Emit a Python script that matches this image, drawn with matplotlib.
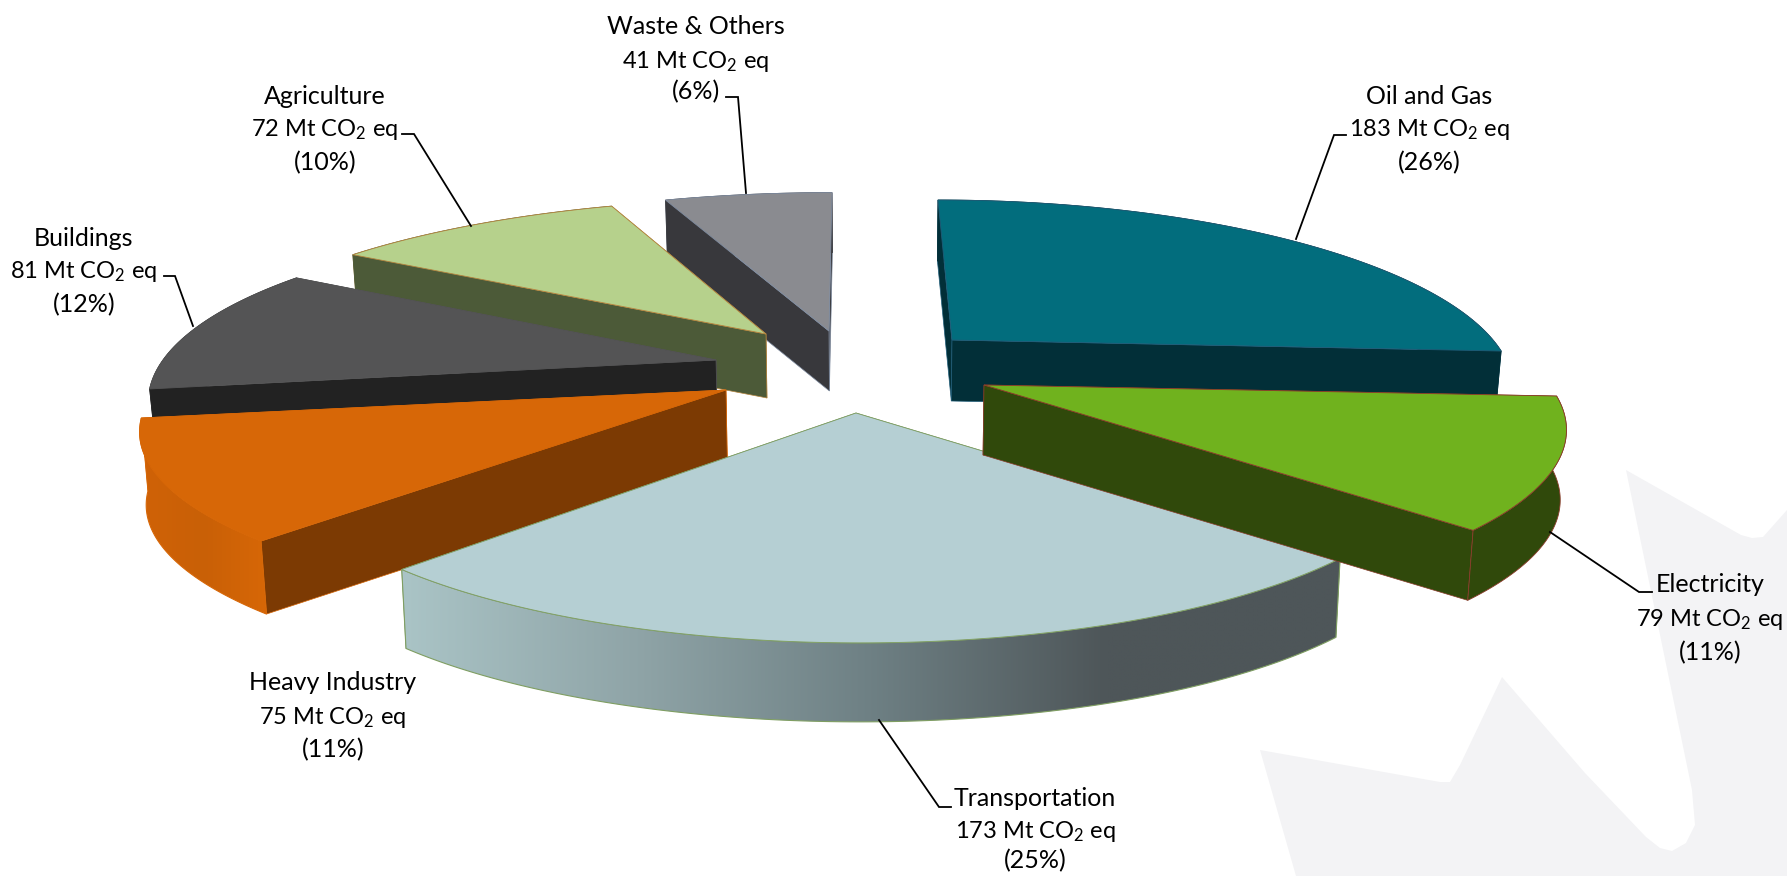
import numpy as np
import matplotlib
matplotlib.use("Agg")
import matplotlib.pyplot as plt
from matplotlib.colors import to_rgb
from matplotlib.patches import Polygon

plt.rcParams["font.family"] = ["Lato", "DejaVu Sans"]
plt.rcParams["mathtext.default"] = "regular"

# -- Data ---------------------------------------------------------------------
sectors = ["Oil and Gas", "Electricity", "Transportation", "Heavy Industry",
           "Buildings", "Agriculture", "Waste & Others"]
values = [183, 79, 173, 75, 81, 72, 41]
percents = [26, 11, 25, 11, 12, 10, 6]

# -- Style: one entry per sector, same order ----------------------------------
top_colors = ["#026D7D", "#70B21E", "#B5CFD3", "#D76707", "#545455", "#B6D18C", "#8A8B90"]
side_colors = ["#022F38", "#30490B", "#6F8488", "#7C3A03", "#222222", "#4C5A38", "#38383C"]
edge_colors = ["#1F5C78", "#8A3B2A", "#7F9E62", "#D76707", "#545455", "#B5853F", "#7F8CA0"]
wall_stops = [None, None, ["#AAC4C6", "#8FA4A7", "#6E8084", "#4E5659", "#4E5659"],
              ["#D06207", "#C96006", "#D76707"], None, None, None]
apex_x = [952, 984, 856, 726, 716, 766, 829]
apex_y = [340, 385, 413, 390, 360, 334, 331]
radius = [541, 565, 556, 570, 553, 558, 570]
tilt = [174, 174, 174, 168, 174, 168, 172]
lean = [-14, 0, -4, -5, -10, 9, 3]   # sideways shift of the rim towards the back
depth = [61, 70, 79, 73, 62, 64, 60]
draw_order = [6, 5, 4, 0, 3, 2, 1]

label_x = [1429, 1710, 1035, 333, 84, 325, 696]
label_y = [[96, 130, 163], [585, 620, 653], [799, 831, 861], [682, 718, 750],
           [238, 271, 305], [96, 130, 163], [26, 62, 92]]
leaders = [[(1346, 135), (1334, 135), (1296, 239)],
           [(1652, 592), (1639, 592), (1550, 532)],
           [(951, 807), (939, 807), (879, 720)],
           None,
           [(164, 276), (175, 276), (193, 326)],
           [(402, 134), (414, 134), (471, 226)],
           [(726, 97), (738, 97), (746, 193)]]

# Faint maple leaf in the bottom right corner
leaf_x = [1260, 1440, 1450, 1460, 1502, 1585, 1646, 1660, 1672, 1686, 1695, 1692,
          1626, 1741, 1752, 1763, 1787, 1787, 1296]
leaf_y = [750, 782, 782, 765, 677, 773, 837, 848, 851, 843, 825, 790,
          470, 535, 538, 537, 510, 876, 876]

START_ANGLE = 0.0    # degrees clockwise from the back of the pie
PERSP = 0.243        # how much smaller the back of the pie is
CENTER_X = 875.0     # vertical edges lean towards this x
CONVERGE = 0.009     # how much the bottom rim is pulled in

sweeps = np.array(values) / sum(values) * 360.0
starts = START_ANGLE + np.concatenate([[0], np.cumsum(sweeps)[:-1]])


def project(i, theta):
    """Screen position of the rim of slice i at angle(s) theta, in degrees."""
    t = np.radians(theta)
    den = 1 + PERSP * np.cos(t)
    x = apex_x[i] + radius[i] * np.sin(t) / den + lean[i] * np.cos(t)
    y = apex_y[i] - tilt[i] * np.cos(t) / den
    return x, y


def lower(x):
    """x of the bottom edge under a point of the top surface."""
    return x - (x - CENTER_X) * CONVERGE


fig = plt.figure(figsize=(17.87, 8.76), dpi=100)
ax = fig.add_axes([0, 0, 1, 1])
ax.axis("off")

ax.add_patch(Polygon(np.column_stack([leaf_x, leaf_y]), closed=True,
                     fc="#F3F3F5", ec="none", zorder=0))

# -- Slices, painted from the back to the front --------------------------------
z = 1
for i in draw_order:
    t0, t1 = starts[i], starts[i] + sweeps[i]
    thetas = np.linspace(t0, t1, 120)
    rx, ry = project(i, thetas)
    ax_, ay_ = apex_x[i], apex_y[i]
    d = depth[i]
    bx = lower(rx)

    # the two cut faces, the rear one first
    for end in sorted([0, -1], key=lambda e: ry[e]):
        face = [(ax_, ay_), (rx[end], ry[end]), (bx[end], ry[end] + d), (lower(ax_), ay_ + d)]
        ax.add_patch(Polygon(face, closed=True, fc=side_colors[i],
                             ec=edge_colors[i], lw=0.5, zorder=z))
        z += 1

    # outer wall, plain or with a left to right gradient clipped to its shape
    wall = np.column_stack([np.r_[rx, bx[::-1]], np.r_[ry, ry[::-1] + d]])
    if wall_stops[i] is None:
        wall_ec = edge_colors[i] if i == 1 else side_colors[i]
        ax.add_patch(Polygon(wall, closed=True, fc=side_colors[i], ec=wall_ec,
                             lw=0.6, zorder=z))
    else:
        stops = np.array([to_rgb(c) for c in wall_stops[i]])
        f = np.linspace(0, 1, 256)
        grad = np.stack([np.interp(f, np.linspace(0, 1, len(stops)), stops[:, k])
                         for k in range(3)], axis=-1)[None, :, :]
        im = ax.imshow(grad, extent=[wall[:, 0].min(), wall[:, 0].max(),
                                     wall[:, 1].max(), wall[:, 1].min()],
                       aspect="auto", interpolation="bilinear", zorder=z)
        outline = Polygon(wall, closed=True, fc="none", ec=edge_colors[i], lw=0.8,
                          transform=ax.transData, zorder=z + 1)
        ax.add_patch(outline)
        im.set_clip_path(outline)
        z += 1
    z += 1

    # top surface
    top = np.column_stack([np.r_[ax_, rx], np.r_[ay_, ry]])
    ax.add_patch(Polygon(top, closed=True, fc=top_colors[i], ec=edge_colors[i],
                         lw=0.6, zorder=z))
    z += 1

# -- Labels and leader lines ---------------------------------------------------
for i, name in enumerate(sectors):
    lines = [name, f"{values[i]} Mt CO$_2$ eq", f"({percents[i]}%)"]
    sizes = [18, 17, 18]
    for line, y, size in zip(lines, label_y[i], sizes):
        ax.text(label_x[i], y, line, ha="center", va="center", fontsize=size,
                color="black", zorder=200)
    if leaders[i] is not None:
        xs, ys = zip(*leaders[i])
        ax.plot(xs, ys, color="black", lw=1.3, solid_joinstyle="miter", zorder=199)

ax.set_xlim(0, 1787)
ax.set_ylim(876, 0)

fig.savefig("out.png", dpi=100)
